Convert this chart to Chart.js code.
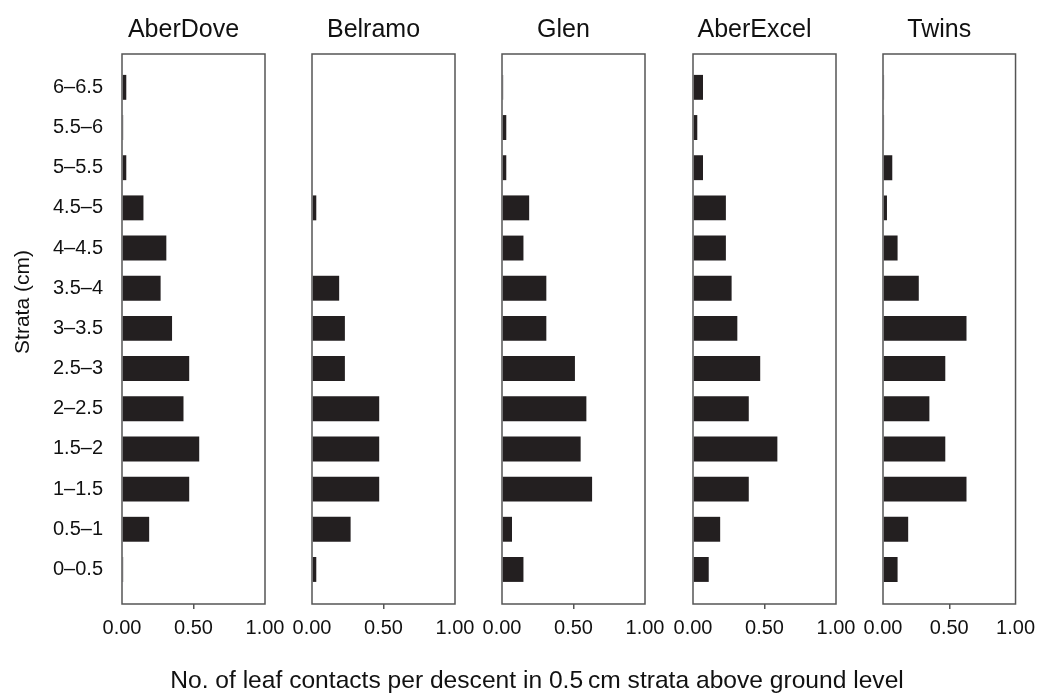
<!DOCTYPE html>
<html><head><meta charset="utf-8">
<script src="https://cdn.jsdelivr.net/npm/chart.js@4/dist/chart.umd.min.js"></script>
<style>
html,body{margin:0;padding:0;background:#fff;}
#wrap{position:relative;width:1042px;height:694px;overflow:hidden;background:#fff;}
#wrap canvas{position:absolute;left:0;top:0;}
</style></head><body><div id="wrap"></div>
<script>
// ---- data (bottom stratum first) ----
const strata = ['0–0.5','0.5–1','1–1.5','1.5–2','2–2.5','2.5–3','3–3.5','3.5–4','4–4.5','4.5–5','5–5.5','5.5–6','6–6.5'];
const cultivars = ['AberDove','Belramo','Glen','AberExcel','Twins'];
const aberDove  = [0.008,0.19,0.47,0.54,0.43,0.47,0.35,0.27,0.31,0.15,0.03,0.008,0.03];
const belramo   = [0.03,0.27,0.47,0.47,0.47,0.23,0.23,0.19,0,0.03,0,0,0];
const glen      = [0.15,0.07,0.63,0.55,0.59,0.51,0.31,0.31,0.15,0.19,0.03,0.03,0.008];
const aberExcel = [0.11,0.19,0.39,0.59,0.39,0.47,0.31,0.27,0.23,0.23,0.07,0.03,0.07];
const twins     = [0.11,0.19,0.63,0.47,0.35,0.47,0.63,0.27,0.11,0.03,0.07,0.008,0.008];
const xTickValues = [0, 0.5, 1];
const yAxisTitle = 'Strata (cm)';
const xAxisTitle = 'No. of leaf contacts per descent in 0.5\u2009cm strata above ground level';
const series = [aberDove, belramo, glen, aberExcel, twins];

// ---- layout ----
const W = 1042, H = 694;
const panelLeft = [122, 312, 502, 693, 883];
const panelWidth = 143;
const plotTop = 54, plotBottom = 604;
const yAxisW = 112;
const FONT = "'Liberation Sans', Arial, Helvetica, sans-serif";
const INK = '#111';
const FRAME = '#555';

const framePlugin = {
  id: 'frame',
  afterDatasetsDraw(chart) {
    const {ctx, chartArea: a} = chart;
    ctx.save();
    ctx.strokeStyle = FRAME;
    ctx.lineWidth = 1.5;
    ctx.strokeRect(a.left, a.top, a.right - a.left, a.bottom - a.top);
    ctx.restore();
  }
};
const textPlugin = {
  id: 'panelText',
  afterDraw(chart, args, opts) {
    const ctx = chart.ctx;
    (opts.items || []).forEach(it => {
      ctx.save();
      ctx.fillStyle = INK;
      ctx.font = it.size + 'px ' + FONT;
      ctx.textAlign = 'center';
      ctx.textBaseline = 'alphabetic';
      const x = typeof it.x === 'function' ? it.x(chart) : it.x;
      ctx.translate(x, it.y);
      if (it.rot) ctx.rotate(it.rot);
      ctx.fillText(it.text, 0, 0);
      ctx.restore();
    });
  }
};

const wrap = document.getElementById('wrap');
cultivars.forEach((name, k) => {
  const cv = document.createElement('canvas');
  cv.width = W; cv.height = H;
  cv.style.width = W + 'px'; cv.style.height = H + 'px';
  wrap.appendChild(cv);
  const items = [{text: name, x: c => (c.chartArea.left + c.chartArea.right) / 2 - 10, y: 37, size: 25}];
  if (k === 0) {
    items.push({text: yAxisTitle, x: 29, y: 302, size: 21, rot: -Math.PI / 2});
    items.push({text: xAxisTitle, x: 537, y: 688, size: 24.6});
  }
  new Chart(cv, {
    type: 'bar',
    data: {
      datasets: [{
        data: series[k].map((v, i) => ({x: v, y: i})),
        backgroundColor: '#231f20',
        borderWidth: 0,
        barPercentage: 0.62,
        categoryPercentage: 1
      }]
    },
    options: {
      indexAxis: 'y',
      responsive: false,
      animation: false,
      devicePixelRatio: 1,
      layout: {padding: {left: panelLeft[k] - yAxisW, right: W - panelLeft[k] - panelWidth, top: plotTop, bottom: H - plotBottom - 40}},
      scales: {
        x: {
          type: 'linear', min: 0, max: 1,
          afterBuildTicks: s => { s.ticks = xTickValues.map(v => ({value: v})); },
          afterFit: s => { s.height = 40; },
          ticks: {padding: 7, maxRotation: 0, autoSkip: false, color: INK,
                  font: {family: FONT, size: 20}, callback: v => Number(v).toFixed(2)},
          grid: {drawOnChartArea: false, drawTicks: true, tickLength: 5, lineWidth: 1.5,
                 color: c => (c.tick && c.tick.value === 0.5) ? FRAME : 'rgba(0,0,0,0)'},
          border: {display: false}
        },
        y: {
          type: 'linear', min: -0.86, max: 12.83, offset: false,
          afterBuildTicks: s => { s.ticks = strata.map((_, i) => ({value: i})); },
          afterFit: s => { s.width = yAxisW; },
          ticks: {display: k === 0, padding: 19, color: INK, autoSkip: false,
                  font: {family: FONT, size: 20}, callback: v => strata[v]},
          grid: {display: false, drawTicks: false, offset: false},
          border: {display: false}
        }
      },
      plugins: {
        legend: {display: false},
        tooltip: {enabled: false},
        title: {display: false},
        panelText: {items}
      }
    },
    plugins: [framePlugin, textPlugin]
  });
});
</script></body></html>
